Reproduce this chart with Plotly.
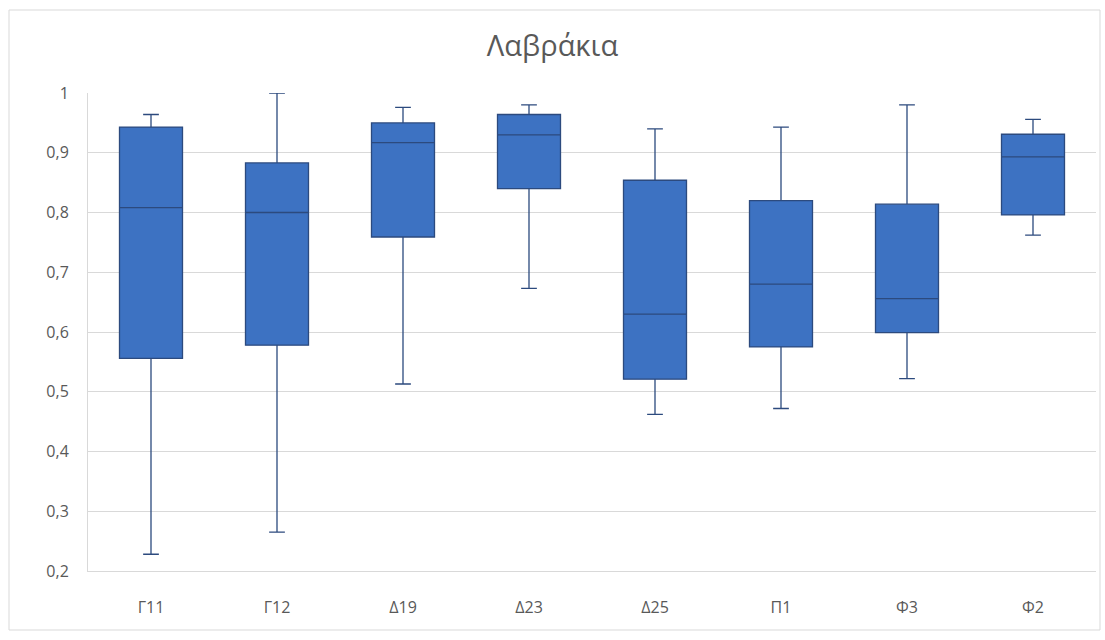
import plotly.graph_objects as go

# Station labels and the five-number summaries of each box
stations = ["Γ11", "Γ12", "Δ19", "Δ23", "Δ25", "Π1", "Φ3", "Φ2"]
whisker_low = [0.228, 0.265, 0.513, 0.673, 0.462, 0.472, 0.522, 0.762]
quartile_1 = [0.556, 0.578, 0.759, 0.840, 0.521, 0.575, 0.599, 0.796]
median = [0.808, 0.800, 0.917, 0.930, 0.630, 0.680, 0.656, 0.893]
quartile_3 = [0.943, 0.883, 0.950, 0.964, 0.854, 0.820, 0.814, 0.931]
whisker_high = [0.964, 1.000, 0.976, 0.980, 0.940, 0.943, 0.980, 0.956]

y_tick_values = [0.2, 0.3, 0.4, 0.5, 0.6, 0.7, 0.8, 0.9, 1.0]
y_tick_labels = ["0,2", "0,3", "0,4", "0,5", "0,6", "0,7", "0,8", "0,9", "1"]

W, H = 1105, 640
ML, MR, MT, MB = 88, 9, 93, 69
plot_w = W - ML - MR
plot_h = H - MT - MB

TEXT = "#595959"
GRID = "#D9D9D9"
FONT = "Open Sans, Noto Sans, sans-serif"

fig = go.Figure(
    go.Box(
        x=stations,
        lowerfence=whisker_low,
        q1=quartile_1,
        median=median,
        q3=quartile_3,
        upperfence=whisker_high,
        width=0.5,
        fillcolor="#3D72C2",
        line=dict(color="#2C4A7E", width=1.3),
        whiskerwidth=0.25,
        boxpoints=False,
        hoverinfo="y",
        showlegend=False,
    )
)

# Outer chart-area frame (in plot-relative paper units)
fig.add_shape(
    type="rect",
    xref="paper", yref="paper",
    x0=(9 - ML) / plot_w, x1=(1100 - ML) / plot_w,
    y0=(H - MB - 630) / plot_h, y1=(H - MB - 10) / plot_h,
    line=dict(color="#D9D9D9", width=1),
    fillcolor="rgba(0,0,0,0)",
    layer="below",
)

fig.update_layout(
    width=W,
    height=H,
    margin=dict(l=ML, r=MR, t=MT, b=MB),
    paper_bgcolor="white",
    plot_bgcolor="white",
    font=dict(family=FONT, color=TEXT, size=16),
    title=dict(
        text="Λαβράκια",
        x=0.5, xref="container", xanchor="center",
        y=1 - 46 / H, yref="container", yanchor="middle",
        font=dict(size=29, color=TEXT, family=FONT),
    ),
    xaxis=dict(
        type="category",
        range=[-0.5, len(stations) - 0.5],
        showgrid=False,
        showline=True,
        linecolor=GRID,
        linewidth=1,
        ticks="",
        ticklabelstandoff=22,
        tickfont=dict(size=16, color=TEXT),
        zeroline=False,
    ),
    yaxis=dict(
        range=[0.2, 1.0],
        tickvals=y_tick_values,
        ticktext=y_tick_labels,
        showgrid=True,
        gridcolor=GRID,
        gridwidth=1,
        showline=True,
        linecolor=GRID,
        ticks="",
        ticklabelstandoff=15,
        tickfont=dict(size=16, color=TEXT),
        zeroline=False,
    ),
)

fig.write_html("out.html")
